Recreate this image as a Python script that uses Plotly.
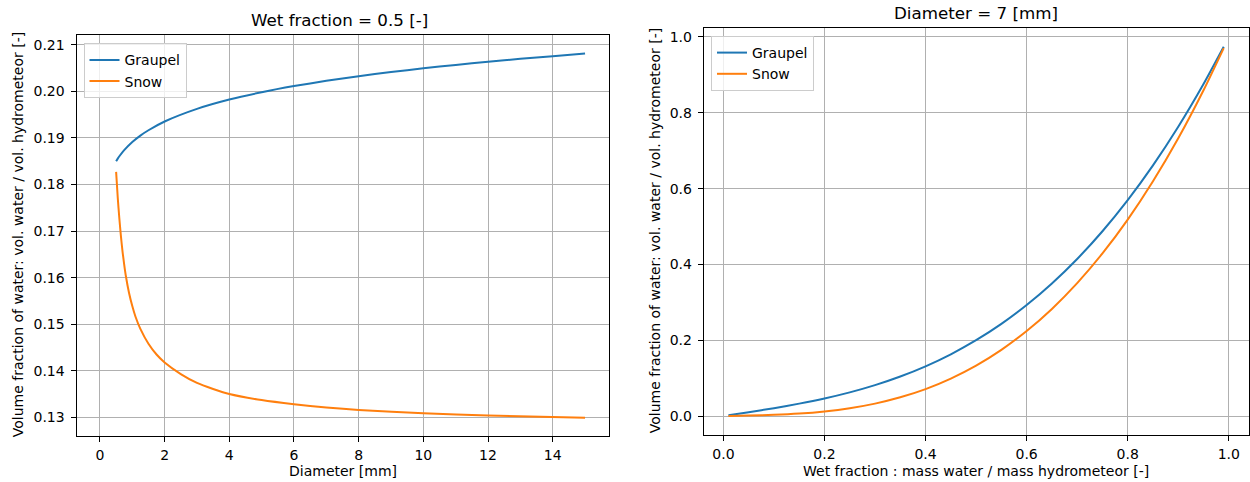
import plotly.graph_objects as go

# ---- Left panel: wet fraction = 0.5, varying diameter ----
diam_graupel = [0.5, 0.55, 0.6, 0.75, 1.0, 1.25, 1.5, 2, 3, 4, 5, 6, 7, 8, 9, 10, 11, 12, 13, 14, 15]
vf_graupel_d = [0.18500, 0.18555, 0.18606, 0.18737, 0.18912, 0.19050, 0.19165, 0.19353, 0.19624,
                0.19824, 0.19981, 0.20113, 0.20226, 0.20325, 0.20414, 0.20495, 0.20568, 0.20635,
                0.20698, 0.20756, 0.20811]

diam_snow = [0.5, 0.55, 0.6, 0.65, 0.7, 0.75, 0.8, 0.9, 1.0, 1.1, 1.25, 1.5, 1.75, 2.0,
             2.5, 3.0, 3.5, 4.0, 5.0, 6.0, 7.0, 8.0, 10.0, 12.0, 15.0]
vf_snow_d = [0.1827, 0.1772, 0.1727, 0.1688, 0.1655, 0.1628, 0.1604, 0.1567, 0.1539, 0.1516,
             0.1490, 0.1458, 0.1435, 0.1418, 0.1393, 0.1374, 0.1361, 0.1350, 0.1337, 0.1328,
             0.1321, 0.1316, 0.1309, 0.1304, 0.1299]

# ---- Right panel: diameter = 7 mm, varying wet fraction ----
wet_fraction = [0.01, 0.05, 0.10, 0.15, 0.20, 0.25, 0.30, 0.35, 0.40, 0.45, 0.50,
                0.55, 0.60, 0.65, 0.70, 0.75, 0.80, 0.85, 0.90, 0.95, 0.99]
vf_graupel_w = [0.0020, 0.0101, 0.0208, 0.0327, 0.0464, 0.0625, 0.0816, 0.1043, 0.1312, 0.1629, 0.2000,
                0.2431, 0.2928, 0.3497, 0.4144, 0.4875, 0.5696, 0.6613, 0.7632, 0.8759, 0.9742]
vf_snow_w = [0.0002, 0.0012, 0.0031, 0.0065, 0.0121, 0.0206, 0.0328, 0.0494, 0.0711, 0.0988, 0.1330,
             0.1746, 0.2242, 0.2826, 0.3506, 0.4289, 0.5181, 0.6192, 0.7327, 0.8594, 0.9707]

left_xticks = [0, 2, 4, 6, 8, 10, 12, 14]
left_yticks = [0.13, 0.14, 0.15, 0.16, 0.17, 0.18, 0.19, 0.20, 0.21]
right_ticks = [0.0, 0.2, 0.4, 0.6, 0.8, 1.0]

BLUE = "#1f77b4"
ORANGE = "#ff7f0e"
FONT = "DejaVu Sans"
W, H = 1250, 482

# panel boxes in pixels (left, right, top, bottom)
L1, R1, T1, B1 = 76.5, 608.5, 35.0, 435.5
L2, R2, T2, B2 = 703.7, 1248.5, 28.0, 434.5

fig = go.Figure()
fig.add_trace(go.Scatter(x=diam_graupel, y=vf_graupel_d, mode="lines", name="Graupel",
                         line=dict(color=BLUE, width=2, shape="spline", smoothing=0.6),
                         xaxis="x", yaxis="y", legend="legend"))
fig.add_trace(go.Scatter(x=diam_snow, y=vf_snow_d, mode="lines", name="Snow",
                         line=dict(color=ORANGE, width=2, shape="spline", smoothing=0.6),
                         xaxis="x", yaxis="y", legend="legend"))
fig.add_trace(go.Scatter(x=wet_fraction, y=vf_graupel_w, mode="lines", name="Graupel",
                         line=dict(color=BLUE, width=2, shape="spline", smoothing=0.6),
                         xaxis="x2", yaxis="y2", legend="legend2"))
fig.add_trace(go.Scatter(x=wet_fraction, y=vf_snow_w, mode="lines", name="Snow",
                         line=dict(color=ORANGE, width=2, shape="spline", smoothing=0.6),
                         xaxis="x2", yaxis="y2", legend="legend2"))

axis_common = dict(showline=True, linecolor="black", linewidth=1, mirror=True,
                   ticks="outside", ticklen=5, tickcolor="black", tickwidth=1,
                   showgrid=True, gridcolor="#b0b0b0", gridwidth=1, zeroline=False,
                   automargin=False,
                   tickfont=dict(family=FONT, size=14, color="black"))

ylabel = "Volume fraction of water: vol. water / vol. hydrometeor [-]"

def px_x(p):
    return p / W

def px_y(p):
    return (H - p) / H

legend_common = dict(xanchor="left", yanchor="top",
                     bgcolor="rgba(255,255,255,0.8)", bordercolor="#cccccc", borderwidth=1,
                     font=dict(family=FONT, size=14, color="black"), tracegroupgap=0)

fig.update_layout(
    width=W, height=H,
    margin=dict(l=0, r=0, t=0, b=0),
    paper_bgcolor="white", plot_bgcolor="white",
    font=dict(family=FONT, size=14, color="black"),
    xaxis=dict(domain=[px_x(L1), px_x(R1)], range=[-0.725, 15.725], tickvals=left_xticks,
               anchor="y", ticklabelstandoff=2, **axis_common),
    yaxis=dict(domain=[px_y(B1), px_y(T1)], range=[0.1261, 0.2121], tickvals=left_yticks,
               tickformat=".2f", anchor="x", ticklabelstandoff=3, **axis_common),
    xaxis2=dict(domain=[px_x(L2), px_x(R2)], range=[-0.039, 1.039], tickvals=right_ticks,
                tickformat=".1f", anchor="y2", ticklabelstandoff=2, **axis_common),
    yaxis2=dict(domain=[px_y(B2), px_y(T2)], range=[-0.0487, 1.0237], tickvals=right_ticks,
                tickformat=".1f", anchor="x2", ticklabelstandoff=3, **axis_common),
    legend=dict(x=px_x(83.5), y=px_y(43.3), **legend_common),
    legend2=dict(x=px_x(711), y=px_y(36), **legend_common),
    annotations=[
        dict(text="Wet fraction = 0.5 [-]", x=px_x(339.5), y=px_y(20),
             xref="paper", yref="paper", showarrow=False, xanchor="center", yanchor="middle",
             font=dict(family=FONT, size=16.7, color="black")),
        dict(text="Diameter = 7 [mm]", x=px_x((L2 + R2) / 2), y=px_y(13),
             xref="paper", yref="paper", showarrow=False, xanchor="center", yanchor="middle",
             font=dict(family=FONT, size=16.7, color="black")),
        dict(text="Diameter [mm]", x=px_x((L1 + R1) / 2), y=px_y(471),
             xref="paper", yref="paper", showarrow=False, xanchor="center", yanchor="middle",
             font=dict(family=FONT, size=14, color="black")),
        dict(text="Wet fraction : mass water / mass hydrometeor [-]", x=px_x((L2 + R2) / 2), y=px_y(471),
             xref="paper", yref="paper", showarrow=False, xanchor="center", yanchor="middle",
             font=dict(family=FONT, size=14, color="black")),
        dict(text=ylabel, x=px_x(18), y=px_y((T1 + B1) / 2), textangle=-90,
             xref="paper", yref="paper", showarrow=False, xanchor="center", yanchor="middle",
             font=dict(family=FONT, size=14, color="black")),
        dict(text=ylabel, x=px_x(655), y=px_y((T2 + B2) / 2), textangle=-90,
             xref="paper", yref="paper", showarrow=False, xanchor="center", yanchor="middle",
             font=dict(family=FONT, size=14, color="black")),
    ],
)

fig.write_html("out.html", config={"displayModeBar": False},
               post_script="document.body.style.margin='0';document.body.style.overflow='hidden';")
